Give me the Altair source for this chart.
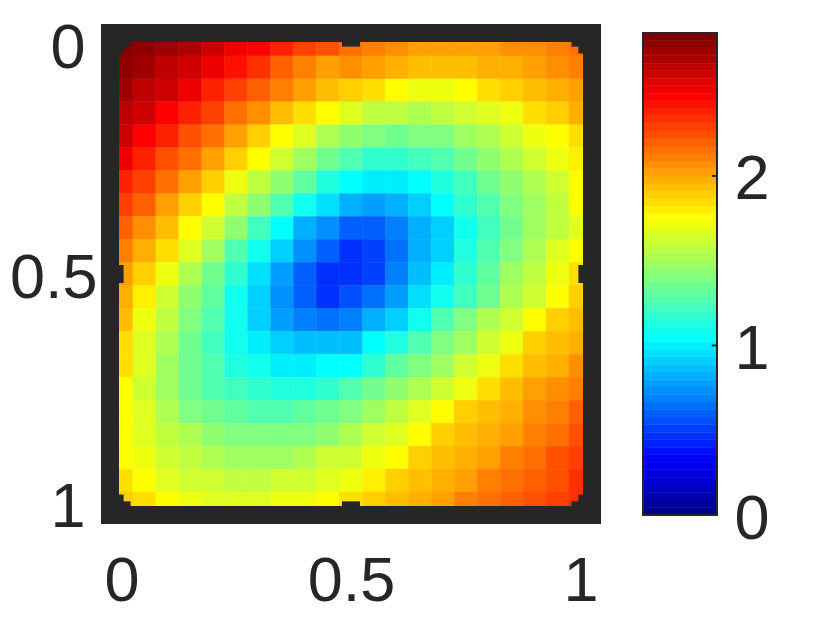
import altair as alt
import pandas as pd

# colour level (1-64 of the 64-step jet map) read per cell, row 0 = top
levels = [
[64,63,62,61,59,57,56,54,52,51,49,48,47,46,46,46,46,47,47,48,49],
[63,62,60,59,57,55,53,50,48,46,47,46,45,44,44,44,45,45,46,47,48],
[62,60,59,57,54,52,50,48,46,44,43,42,40,39,39,40,42,43,44,45,46],
[60,59,56,54,52,49,47,44,42,40,38,36,36,35,36,37,38,39,42,43,45],
[59,56,54,51,49,46,43,40,38,35,33,32,31,32,32,34,35,37,39,40,42],
[57,54,51,49,46,43,40,37,34,31,29,27,27,28,29,31,33,35,37,39,41],
[54,52,49,46,43,39,36,33,30,26,24,23,23,24,26,28,31,33,35,37,40],
[52,50,46,43,40,36,33,29,25,22,19,18,19,21,24,27,29,32,34,36,40],
[50,47,44,40,37,33,28,24,19,17,14,14,16,19,21,25,28,31,34,36,38],
[48,45,42,38,34,29,25,21,17,14,11,12,15,19,21,26,29,32,35,38,40],
[46,43,39,35,31,27,22,18,14,11,11,12,16,20,23,27,30,34,36,39,42],
[45,41,37,33,30,25,21,17,14,11,13,15,18,22,25,28,31,35,37,40,43],
[44,39,36,32,29,25,21,18,16,15,16,19,21,25,29,32,35,37,40,43,44],
[42,38,35,31,28,25,23,21,20,20,20,24,26,29,32,34,37,39,43,44,45],
[42,38,34,31,29,26,25,23,23,24,24,27,30,32,34,37,39,42,44,45,47],
[40,37,34,31,29,28,27,26,26,27,29,31,33,35,37,39,42,44,46,47,48],
[40,38,35,32,31,30,29,29,30,31,32,34,36,38,40,43,44,45,47,48,50],
[40,38,36,35,33,32,32,32,32,33,35,37,38,40,43,44,45,46,48,49,51],
[40,39,37,36,35,34,34,34,35,37,37,39,40,43,44,45,46,48,49,51,52],
[42,40,38,37,37,36,36,37,37,38,39,41,43,44,45,46,48,49,50,51,53],
[43,42,40,39,38,38,38,39,39,40,42,43,44,45,46,48,49,50,51,52,53],
]
zmax = 2.843
x_ticks = [0, 0.5, 1]
y_ticks = [0, 0.5, 1]
cbar_ticks = [1, 2]
cbar_labels = [0, 1, 2]
cell = 0.05
lim = [-0.025, 1.025]
tick_end = 0.0047
ink = "#262626"
font = "Liberation Sans"
fs = 63


def jet(i):
    def c(v):
        return max(0, min(255, round(v * 255)))
    t = (i - 0.0) / 16
    r = min(t - 1.5, 4.5 - t)
    g = min(t - 0.5, 3.5 - t)
    b = min(t + 0.5, 2.5 - t)
    return "#%02x%02x%02x" % (c(r), c(g), c(b))


palette = [jet(i) for i in range(1, 65)]
color_scale = alt.Scale(type="quantize", domain=[0, zmax], range=palette, nice=False)

rows = []
for r, row in enumerate(levels):
    for c, lv in enumerate(row):
        rows.append({
            "x0": c * cell - cell / 2, "x1": c * cell + cell / 2,
            "y0": r * cell - cell / 2, "y1": r * cell + cell / 2,
            "z": (lv - 0.5) * zmax / 64,
        })
cells = pd.DataFrame(rows)

xs = alt.Scale(domain=lim, nice=False, zero=False)
ys = alt.Scale(domain=lim, nice=False, zero=False, reverse=True)

heat = alt.Chart(cells).mark_rect(strokeWidth=0.5, clip=True).encode(
    x=alt.X("x0:Q", scale=xs, title=None,
            axis=alt.Axis(values=x_ticks, grid=False, domain=False, ticks=False, labelFont=font,
                          labelFontSize=fs, labelColor=ink, labelPadding=35, labelFlush=False,
                          labelOverlap=False, format="~g")),
    x2="x1:Q",
    y=alt.Y("y0:Q", scale=ys, title=None,
            axis=alt.Axis(values=y_ticks, grid=False, domain=False, ticks=False, labelFont=font,
                          labelFontSize=fs, labelColor=ink,
                          labelPadding={"condition": {"test": "datum.value == 0.5", "value": 13}, "value": 25},
                          labelFlush=False,
                          labelOverlap=False, labelOffset=4, format="~g")),
    y2="y1:Q",
    color=alt.Color("z:Q", scale=color_scale, legend=None),
    stroke=alt.Stroke("z:Q", scale=color_scale, legend=None),
)

frame = alt.Chart(pd.DataFrame({"a": [lim[0]], "b": [lim[1]]})).mark_rect(
    fillOpacity=0, stroke=ink, strokeWidth=18
).encode(
    x=alt.X("a:Q", scale=xs), x2="b:Q",
    y=alt.Y("a:Q", scale=ys), y2="b:Q",
)

tx = []
for t in x_ticks:
    tx.append({"p": t, "s": lim[0], "e": tick_end})
    tx.append({"p": t, "s": lim[1], "e": 1 - tick_end})
ticks_df = pd.DataFrame(tx)

ticks_x = alt.Chart(ticks_df).mark_rule(color=ink, strokeWidth=18).encode(
    x=alt.X("p:Q", scale=xs), y=alt.Y("s:Q", scale=ys), y2="e:Q")
ticks_y = alt.Chart(ticks_df).mark_rule(color=ink, strokeWidth=18).encode(
    y=alt.Y("p:Q", scale=ys), x=alt.X("s:Q", scale=xs), x2="e:Q")

left = alt.layer(heat, frame, ticks_x, ticks_y).properties(width=482, height=482)

band = zmax / 64
bars = pd.DataFrame({
    "y0": [i * band for i in range(64)],
    "y1": [(i + 1) * band for i in range(64)],
    "z": [(i + 0.5) * band for i in range(64)],
    "a": [0] * 64, "b": [1] * 64,
})
cx = alt.Scale(domain=[0, 1], nice=False, zero=False)
cy = alt.Scale(domain=[0, zmax], nice=False, zero=False)

cbar = alt.Chart(bars).mark_rect(strokeWidth=0.5).encode(
    x=alt.X("a:Q", scale=cx, axis=None), x2="b:Q",
    y=alt.Y("y0:Q", scale=cy, title=None,
            axis=alt.Axis(orient="right", values=cbar_labels, grid=False, domain=False, ticks=False,
                          labelFont=font, labelFontSize=fs, labelColor=ink, labelPadding=17,
                          labelOffset=4, labelFlush=False, labelOverlap=False, format="~g")),
    y2="y1:Q",
    color=alt.Color("z:Q", scale=color_scale, legend=None),
    stroke=alt.Stroke("z:Q", scale=color_scale, legend=None),
)
cframe = alt.Chart(pd.DataFrame({"a": [0], "b": [1], "c": [0], "d": [zmax]})).mark_rect(
    fillOpacity=0, stroke=ink, strokeWidth=2
).encode(x=alt.X("a:Q", scale=cx), x2="b:Q", y=alt.Y("c:Q", scale=cy), y2="d:Q")
cticks = alt.Chart(pd.DataFrame({"t": cbar_ticks, "s": [0.93] * 2, "e": [1] * 2})).mark_rule(
    color=ink, strokeWidth=2
).encode(y=alt.Y("t:Q", scale=cy), x=alt.X("s:Q", scale=cx), x2="e:Q")

right = alt.layer(cbar, cframe, cticks).properties(width=74, height=482)

chart = alt.hconcat(left, right, spacing=39).resolve_scale(color="independent", stroke="independent").properties(
    padding={"left": 0, "top": 8, "right": 0, "bottom": 0}
).configure_view(stroke=None).configure(background="white")

chart.save("out.html", embed_options={"renderer": "svg", "actions": False})
